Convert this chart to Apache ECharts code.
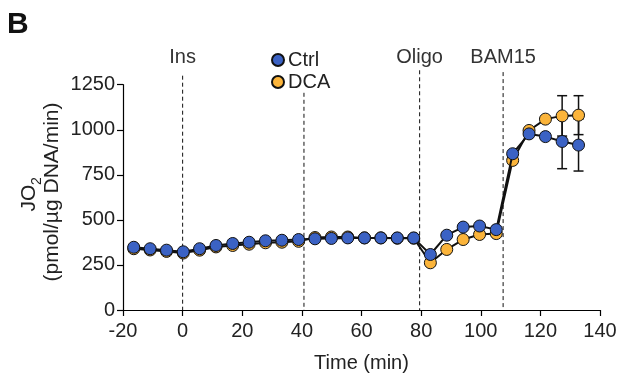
<!DOCTYPE html>
<html>
<head>
<meta charset="utf-8">
<script src="https://cdn.jsdelivr.net/npm/echarts@6/dist/echarts.min.js"></script>
<style>
  html, body { margin: 0; padding: 0; background: #fff; }
  #chart { width: 627px; height: 378px; }
</style>
</head>
<body>
<div id="chart"></div>
<script>
// sampling times (min), shared by both groups
const times = [-16.4, -10.9, -5.4, 0.2, 5.7, 11.2, 16.8, 22.3, 27.8, 33.3, 38.9, 44.4, 49.9, 55.4,
    61.0, 66.5, 72.0, 77.5, 83.1, 88.6, 94.1, 99.6, 105.2, 110.7, 116.2, 121.7, 127.3, 132.8];
const ctrl = [348, 340, 332, 323, 340, 358, 369, 376, 384, 387, 391, 395, 397, 400,
    400, 400, 400, 400, 308, 415, 460, 466, 446, 867, 977, 962, 935, 915];
const dca = [340, 333, 325, 316, 332, 350, 358, 365, 373, 376, 381, 402, 405, 405,
    400, 400, 398, 398, 262, 336, 391, 419, 424, 830, 996, 1059, 1077, 1081];

// error bars only visible on the last two points
const errTimes = [127.3, 132.8];
const ctrlErr = [151, 144];
const dcaErr = [112, 108];

// injections
const eventTimes = [0, 40.7, 79.5, 107.5];
const eventLabels = ["Ins", "", "Oligo", "BAM15"];
const eventTops = [1300, 1205, 1330, 1320];

const xTicks = { min: -20, max: 140, interval: 20 };
const yTicks = { min: 0, max: 1250, interval: 250 };

const BLUE = "#3b62c4";
const ORANGE = "#fbb43a";
const FONT = "Liberation Sans";

const chart = echarts.init(document.getElementById("chart"));

const pair = (xs, ys) => xs.map((x, i) => [x, ys[i]]);
const errData = (vals, errs) => errTimes.map((t, i) => {
    const v = vals[times.indexOf(t)];
    return [t, v - errs[i], v + errs[i]];
});

const errSeries = (name, data) => ({
    name: name,
    type: "custom",
    z: 1,
    silent: true,
    data: data,
    renderItem: (params, api) => {
        const lo = api.coord([api.value(0), api.value(1)]);
        const hi = api.coord([api.value(0), api.value(2)]);
        const w = 5;
        const st = { stroke: "#111", lineWidth: 1.5 };
        return {
            type: "group",
            children: [
                { type: "line", shape: { x1: lo[0], y1: lo[1], x2: hi[0], y2: hi[1] }, style: st },
                { type: "line", shape: { x1: lo[0] - w, y1: lo[1], x2: lo[0] + w, y2: lo[1] }, style: st },
                { type: "line", shape: { x1: hi[0] - w, y1: hi[1], x2: hi[0] + w, y2: hi[1] }, style: st },
            ],
        };
    },
});

const option = {
    animation: false,
    backgroundColor: "#fff",
    textStyle: { fontFamily: FONT },
    grid: { left: 123, right: 27, top: 84.7, bottom: 67.3 },
    legend: {
        data: ["Ctrl", "DCA"],
        orient: "vertical",
        left: 266,
        top: 45,
        itemGap: 2,
        itemWidth: 12,
        itemHeight: 12,
        icon: "circle",
        textStyle: { fontSize: 20, color: "#222", fontFamily: FONT, padding: [0, 0, 0, -1] },
    },
    xAxis: {
        type: "value",
        min: xTicks.min,
        max: xTicks.max,
        interval: xTicks.interval,
        name: "Time (min)",
        nameLocation: "middle",
        nameGap: 43,
        nameTextStyle: { fontSize: 20, color: "#222" },
        axisLine: { onZero: false, lineStyle: { color: "#000", width: 1.2 } },
        axisTick: { show: true, inside: false, length: 6, lineStyle: { color: "#000", width: 1.2 } },
        axisLabel: { fontSize: 20, color: "#222", margin: 11 },
        splitLine: { show: false },
    },
    yAxis: {
        type: "value",
        min: yTicks.min,
        max: yTicks.max,
        interval: yTicks.interval,
        axisLine: { show: true, onZero: false, lineStyle: { color: "#000", width: 1.2 } },
        axisTick: { show: true, inside: false, length: 6, lineStyle: { color: "#000", width: 1.2 } },
        axisLabel: { fontSize: 20, color: "#222", margin: 8, formatter: (v) => String(v) },
        splitLine: { show: false },
    },
    graphic: [
        {
            type: "text",
            left: 7,
            top: 10,
            style: { text: "B", font: "bold 30px " + FONT, fill: "#111" },
        },
        {
            type: "text",
            x: 29,
            y: 198,
            rotation: Math.PI / 2,
            style: { text: "JO", font: "21px " + FONT, fill: "#222", align: "center", verticalAlign: "middle" },
        },
        {
            type: "text",
            x: 37,
            y: 181,
            rotation: Math.PI / 2,
            style: { text: "2", font: "14px " + FONT, fill: "#222", align: "center", verticalAlign: "middle" },
        },
        {
            type: "text",
            x: 52,
            y: 192,
            rotation: Math.PI / 2,
            style: { text: "(pmol/µg DNA/min)", font: "21px " + FONT, fill: "#222", align: "center", verticalAlign: "middle" },
        },
    ],
    series: [
        {
            name: "events",
            type: "custom",
            z: 0,
            silent: true,
            data: eventTimes.map((t, i) => [t, eventTops[i], i]),
            renderItem: (params, api) => {
                const top = api.coord([api.value(0), api.value(1)]);
                const bottom = api.coord([api.value(0), 0]);
                const labelPos = api.coord([api.value(0), 1403]);
                const children = [
                    {
                        type: "line",
                        shape: { x1: top[0], y1: top[1], x2: bottom[0], y2: bottom[1] },
                        style: { stroke: "#111", lineWidth: 1, lineDash: [4, 3] },
                    },
                ];
                const label = eventLabels[api.value(2)];
                if (label) {
                    children.push({
                        type: "text",
                        x: labelPos[0],
                        y: labelPos[1],
                        style: {
                            text: label,
                            font: "20px " + FONT,
                            fill: "#333",
                            align: "center",
                            verticalAlign: "middle",
                        },
                    });
                }
                return { type: "group", children: children };
            },
        },
        errSeries("DCA err", errData(dca, dcaErr)),
        errSeries("Ctrl err", errData(ctrl, ctrlErr)),
        {
            name: "DCA",
            type: "line",
            z: 3,
            data: pair(times, dca),
            symbol: "circle",
            symbolSize: 12,
            lineStyle: { color: "#111", width: 2 },
            itemStyle: { color: ORANGE, borderColor: "#111", borderWidth: 1 },
        },
        {
            name: "Ctrl",
            type: "line",
            z: 4,
            data: pair(times, ctrl),
            symbol: "circle",
            symbolSize: 12,
            lineStyle: { color: "#111", width: 2 },
            itemStyle: { color: BLUE, borderColor: "#111", borderWidth: 1 },
        },
    ],
};

chart.setOption(option);
</script>
</body>
</html>
